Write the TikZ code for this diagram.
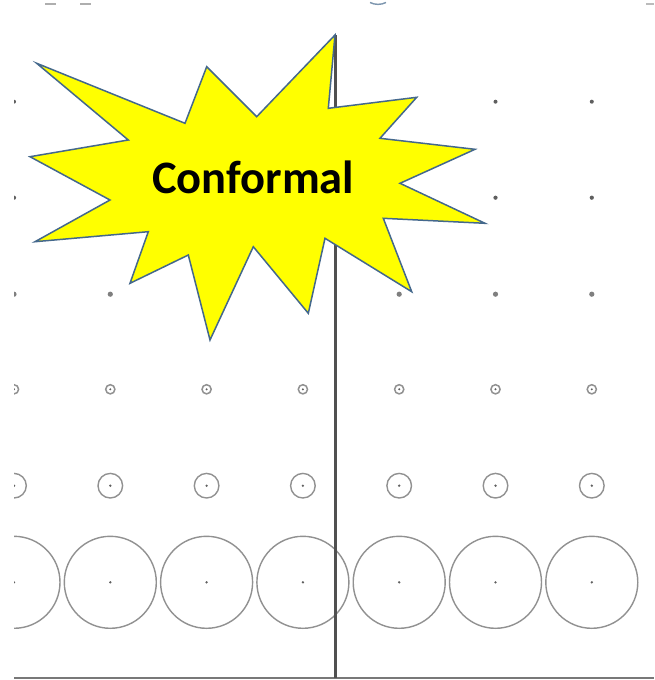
\documentclass[tikz,border=0pt]{standalone}
\usepackage{fontspec}
\newfontfamily\labelfont{Carlito}
\definecolor{ringgray}{RGB}{145,145,145}
\definecolor{dotgray}{RGB}{95,95,95}
\definecolor{axisgray}{RGB}{80,80,80}
\definecolor{basegray}{RGB}{120,120,120}
\definecolor{staredge}{RGB}{68,104,140}
\definecolor{starfill}{RGB}{255,255,0}
\tikzset{
  ring/.style={draw=ringgray, line width=1.4pt},
  pip/.style={fill=dotgray},
  bigpip/.style={fill=dotgray!80},
  burst/.style={fill=starfill, draw=staredge, line width=1.5pt, line join=miter},
  burstlabel/.style={font=\labelfont\bfseries\fontsize{46.5}{46.5}\selectfont, text=black, inner sep=0pt}
}
\begin{document}
\begin{tikzpicture}[x=1pt,y=-1pt]
\useasboundingbox (0,0) rectangle (654,680);
\fill[white] (0,0) rectangle (654,680);

% lattice of points and circles, cut at the left margin
\begin{scope}
\clip (14,0) rectangle (654,680);
\foreach \i in {0,...,6}{
  \pgfmathsetmacro{\cx}{14+96.3*\i}
  % plain points
  \fill[pip] (\cx,101.7) circle (2.0);
  \fill[pip] (\cx,197.7) circle (2.1);
  \fill[bigpip] (\cx,294.2) circle (2.6);
  % small rings
  \draw[ring, line width=1.5pt] (\cx,389.3) circle (4.6);
  \fill[pip] (\cx,389.3) circle (1.1);
  % medium rings
  \draw[ring] (\cx,485.7) circle (12.3);
  \fill[pip] (\cx,485.7) circle (1.3);
  % large rings
  \draw[ring] (\cx,582.3) circle (46);
  \fill[pip] (\cx,582.3) circle (1.3);
}
\end{scope}

% remnants along the top edge
\draw[basegray!60, line width=1.2pt] (45,4) -- (56,4);
\draw[basegray!60, line width=1.2pt] (80,4) -- (91,4);
\draw[staredge!70, line width=1.4pt] (370,2.5) .. controls (375,5) and (381,5) .. (386,2.5);
\draw[basegray!50, line width=1.2pt] (646,4) -- (654,4);

% axes
\coordinate (baseL) at (14,677.7);
\coordinate (baseR) at (654,677.7);
\coordinate (axisTop) at (335.7,35);
\coordinate (axisBot) at (335.7,677.7);
\draw[basegray, line width=2pt] (baseL) -- (baseR);
\draw[axisgray, line width=2.6pt] (axisTop) -- (axisBot);

% explosion burst
\draw[burst]
  (335,35) -- (328.3,108.3) -- (416.7,97.3) -- (380,138.3) -- (475,149.3)
  -- (400,183.3) -- (485,223.3) -- (383.3,218.3) -- (411.7,291.7)
  -- (325,238.3) -- (308.3,313.3) -- (253.3,246.7) -- (210,340)
  -- (188.3,255) -- (130,283.3) -- (148.3,231.7) -- (35,241.7)
  -- (110,200) -- (30,156.7) -- (128.3,140) -- (36.7,63.3)
  -- (185,123.3) -- (206.7,66.7) -- (256.7,116.7) -- cycle;
\node[burstlabel, anchor=base] (lbl) at (253.3,193.3) {Conformal};
\end{tikzpicture}
\end{document}
